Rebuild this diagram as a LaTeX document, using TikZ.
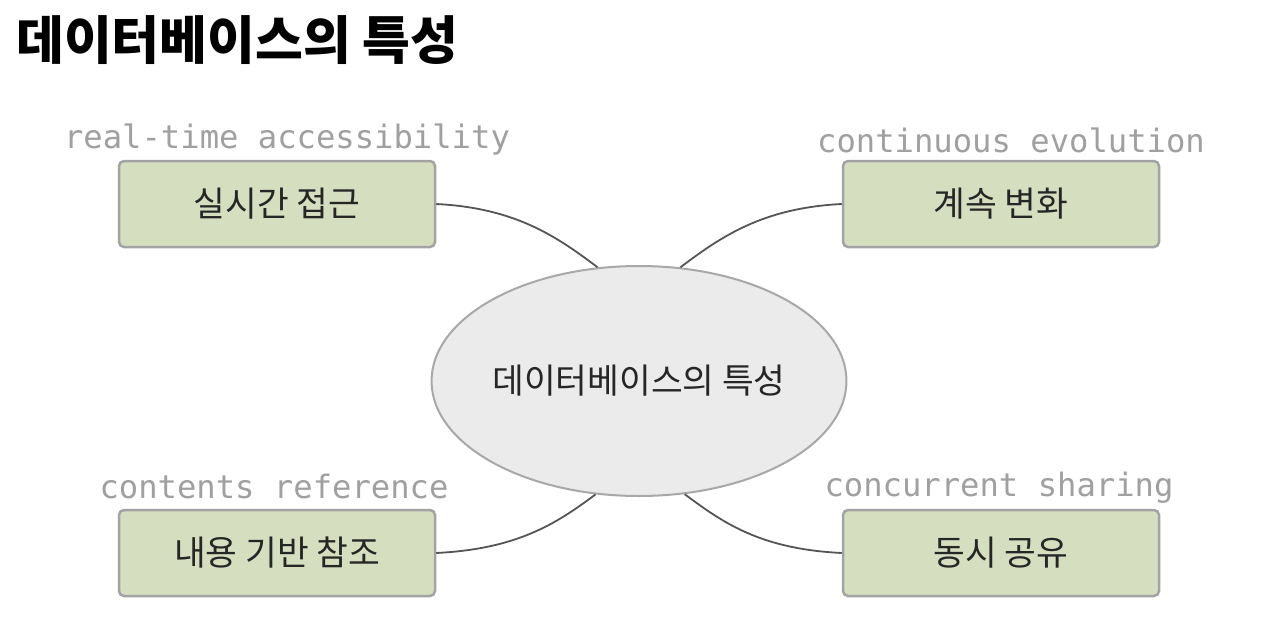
\documentclass[tikz,border=0pt]{standalone}
\usepackage{fontspec}
\usetikzlibrary{shapes.geometric}
\newfontfamily\kr{Noto Sans CJK KR}
\newfontfamily\mono{DejaVu Sans Mono}
\definecolor{boxfill}{HTML}{D6DEC0}
\definecolor{boxline}{HTML}{A3A3A3}
\definecolor{elfill}{HTML}{EBEBEB}
\definecolor{elline}{HTML}{A8A8A8}
\definecolor{lbl}{HTML}{A0A0A0}
\definecolor{conn}{HTML}{555555}
\begin{document}
\begin{tikzpicture}[x=1pt,y=-1pt,
  featbox/.style={draw=boxline, line width=2.5pt, fill=boxfill, rounded corners=5pt,
    minimum width=316pt, minimum height=86pt, inner sep=0pt,
    font=\kr\fontsize{34.5}{40}\selectfont, text=black!85},
  engl/.style={font=\mono\fontsize{32.2}{36}\selectfont, text=lbl, inner sep=0pt},
  hub/.style={ellipse, draw=elline, line width=2pt, fill=elfill, minimum width=406pt,
    minimum height=230pt, inner sep=0pt, font=\kr\fontsize{34.5}{40}\selectfont, text=black!85},
  link/.style={draw=conn, line width=1.8pt}]
\useasboundingbox (0,0) rectangle (1262,624);
\fill[white] (0,0) rectangle (1262,624);
\node[anchor=west, inner sep=0pt, font=\kr\bfseries\fontsize{52}{58}\selectfont] (title) at (16,40) {데이터베이스의 특성};
\node[hub] (el) at (639,381) {데이터베이스의 특성};
\node[featbox] (tl) at (277,204) {실시간 접근};
\node[featbox] (tr) at (1001,204) {계속 변화};
\node[featbox] (bl) at (277,553) {내용 기반 참조};
\node[featbox] (br) at (1001,553) {동시 공유};
\node[engl] (ltl) at (287,140) {real-time accessibility};
\node[engl] (ltr) at (1011,140) {continuous evolution};
\node[engl] (lbl) at (274,486) {contents reference};
\node[engl] (lbr) at (999,488) {concurrent sharing};
\draw[link] (tl.east) .. controls +(80,4) and +(-40,-30) .. (el.110);
\draw[link] (tr.west) .. controls +(-80,4) and +(40,-30) .. (el.70);
\draw[link] (bl.east) .. controls +(80,-4) and +(-40,30) .. (el.-111);
\draw[link] (br.west) .. controls +(-80,-4) and +(40,30) .. (el.-68);
\end{tikzpicture}
\end{document}
